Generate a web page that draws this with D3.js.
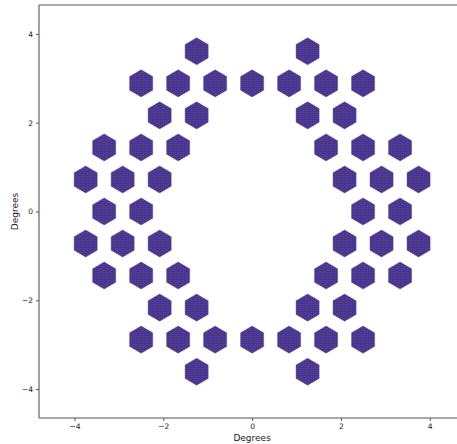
<!DOCTYPE html>
<html>
<head>
<meta charset="utf-8">
<script src="https://cdn.jsdelivr.net/npm/d3@7"></script>
<style>
  html, body { margin: 0; padding: 0; background: #fff; }
  svg { display: block; font-family: "DejaVu Sans", sans-serif; }
</style>
</head>
<body>
<svg id="chart" width="457" height="444"></svg>
<script>
// IFU bundle layout: rows of hexagonal bundles on a hex lattice.
// rowIndex -> lattice column offsets (in units of the bundle pitch)
const pitch = 0.833;            // degrees between neighbouring bundle centres
const rowIndex = [5, 4, 3, 2, 1, 0, -1, -2, -3, -4, -5];
const rowOffsets = [
  [-1.5, 1.5],
  [-3, -2, -1, 0, 1, 2, 3],
  [-2.5, -1.5, 1.5, 2.5],
  [-4, -3, -2, 2, 3, 4],
  [-4.5, -3.5, -2.5, 2.5, 3.5, 4.5],
  [-4, -3, 3, 4],
  [-4.5, -3.5, -2.5, 2.5, 3.5, 4.5],
  [-4, -3, -2, 2, 3, 4],
  [-2.5, -1.5, 1.5, 2.5],
  [-3, -2, -1, 0, 1, 2, 3],
  [-1.5, 1.5]
];
const xTicks = [-4, -2, 0, 2, 4];
const yTicks = [-4, -2, 0, 2, 4];
const hexHalfWidth = 0.26;      // degrees, flat-to-flat / 2
const hexHalfHeight = 0.305;    // degrees, vertex-to-vertex / 2

const bundles = [];
rowIndex.forEach((j, k) => {
  rowOffsets[k].forEach(o => {
    bundles.push({ x: o * pitch, y: j * pitch * Math.sqrt(3) / 2 });
  });
});

const svg = d3.select("#chart");
const margin = { left: 39, top: 5, bottom: 26 };
const plotH = 444 - margin.top - margin.bottom;
const pxPerDeg = 44.4;
const x = d3.scaleLinear().domain([-4.8, 4.8]).range([margin.left, margin.left + 9.6 * pxPerDeg]);
const y = d3.scaleLinear().domain([-4.65, 4.65]).range([margin.top + plotH, margin.top]);

// speckled fill: blue fibres with red fibres interleaved
const defs = svg.append("defs");
const pat = defs.append("pattern")
  .attr("id", "fibres").attr("patternUnits", "userSpaceOnUse")
  .attr("width", 2).attr("height", 2);
pat.append("rect").attr("width", 2).attr("height", 2).attr("fill", "#413890");
pat.append("rect").attr("x", 1).attr("y", 0).attr("width", 1).attr("height", 1).attr("fill", "#6e3c7e");
pat.append("rect").attr("x", 0).attr("y", 1).attr("width", 1).attr("height", 1).attr("fill", "#3a389e");

const clip = defs.append("clipPath").attr("id", "plotclip");
clip.append("rect").attr("x", x(-4.8)).attr("y", y(4.65))
  .attr("width", x(4.8) - x(-4.8)).attr("height", y(-4.65) - y(4.65));

const hexPath = d => {
  const pts = d3.range(6).map(i => {
    const a = Math.PI / 2 + i * Math.PI / 3;
    return [x(d.x + Math.cos(a) * hexHalfWidth / Math.cos(Math.PI / 6)),
            y(d.y + Math.sin(a) * hexHalfHeight)];
  });
  return "M" + pts.map(p => p.join(",")).join("L") + "Z";
};

svg.append("g").attr("clip-path", "url(#plotclip)")
  .selectAll("path").data(bundles).join("path")
  .attr("d", hexPath)
  .attr("fill", "url(#fibres)")
  .attr("stroke", "#5a3f90")
  .attr("stroke-width", 0.6)
  .attr("stroke-opacity", 0.7);

// spines
const spine = svg.append("g").attr("stroke", "#555").attr("stroke-width", 1.1).attr("fill", "none");
spine.append("line").attr("x1", x(-4.8)).attr("x2", x(-4.8)).attr("y1", y(4.65)).attr("y2", y(-4.65));
spine.append("line").attr("x1", x(-4.8)).attr("x2", x(4.8)).attr("y1", y(-4.65)).attr("y2", y(-4.65));
spine.append("line").attr("x1", x(-4.8)).attr("x2", x(4.8)).attr("y1", y(4.65)).attr("y2", y(4.65));
spine.append("line").attr("x1", x(4.8)).attr("x2", x(4.8)).attr("y1", y(4.65)).attr("y2", y(-4.65));

const fmt = v => (v < 0 ? "\u2212" + Math.abs(v) : String(v));

const xAxis = svg.append("g").attr("transform", `translate(0,${y(-4.65)})`)
  .call(d3.axisBottom(x).tickValues(xTicks).tickSize(3).tickPadding(2.5).tickFormat(fmt));
const yAxis = svg.append("g").attr("transform", `translate(${x(-4.8)},0)`)
  .call(d3.axisLeft(y).tickValues(yTicks).tickSize(3).tickPadding(3).tickFormat(fmt));
[xAxis, yAxis].forEach(g => {
  g.select(".domain").remove();
  g.selectAll(".tick line").attr("stroke", "#555");
  g.selectAll(".tick text").attr("fill", "#1a1a1a").attr("font-size", 7.5)
    .attr("font-family", "DejaVu Sans, sans-serif");
});

svg.append("text").attr("x", x(0)).attr("y", 441).attr("text-anchor", "middle")
  .attr("font-size", 9).attr("fill", "#1a1a1a").text("Degrees");
svg.append("text").attr("transform", `translate(18,${y(0)}) rotate(-90)`)
  .attr("text-anchor", "middle").attr("font-size", 9).attr("fill", "#1a1a1a").text("Degrees");
</script>
</body>
</html>
